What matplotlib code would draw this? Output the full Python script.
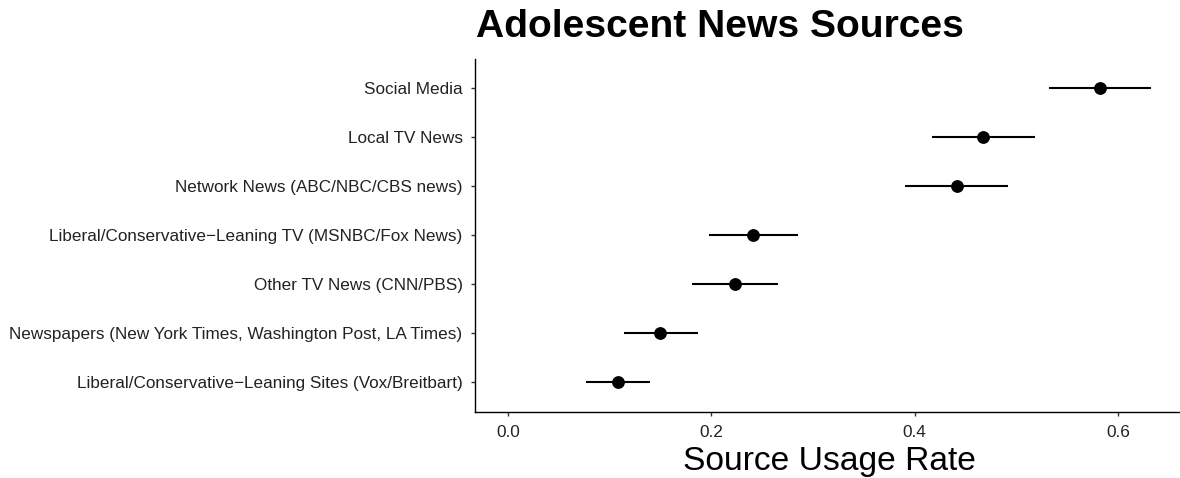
import matplotlib
matplotlib.use("Agg")
import matplotlib.pyplot as plt

categories = [
    "Social Media",
    "Local TV News",
    "Network News (ABC/NBC/CBS news)",
    "Liberal/Conservative\u2212Leaning TV (MSNBC/Fox News)",
    "Other TV News (CNN/PBS)",
    "Newspapers (New York Times, Washington Post, LA Times)",
    "Liberal/Conservative\u2212Leaning Sites (Vox/Breitbart)",
]
rate = [0.582, 0.4675, 0.4415, 0.241, 0.223, 0.150, 0.1085]
ci_low = [0.532, 0.417, 0.391, 0.198, 0.181, 0.114, 0.077]
ci_high = [0.632, 0.518, 0.492, 0.285, 0.2655, 0.1865, 0.140]
xticks = [0.0, 0.2, 0.4, 0.6]
xticklabels = ["0.0", "0.2", "0.4", "0.6"]

plt.rcParams['font.family'] = ['Liberation Sans', 'DejaVu Sans']

W, H = 1180, 478
fig = plt.figure(figsize=(W / 100, H / 100), dpi=100)
ax = fig.add_axes([474.7 / W, 1 - 411.7 / H, 1 - 474.7 / W, (411.7 - 58.6) / H])

n = len(categories)
ypos = [n - 1 - i for i in range(n)]
for y, lo, hi in zip(ypos, ci_low, ci_high):
    ax.plot([lo, hi], [y, y], color='black', lw=1.5, solid_capstyle='butt')
ax.plot(rate, ypos, 'o', color='black', markersize=8.2, zorder=3)

ax.set_xlim(-0.0327, 0.661)
ax.set_ylim(-0.6, n - 1 + 0.6)
ax.set_yticks(ypos)
ax.set_yticklabels(categories, fontsize=12.3, color='#222222')
ax.set_xticks(xticks)
ax.set_xticklabels(xticklabels, fontsize=12.4, color='#222222')
ax.tick_params(axis='y', length=3.0, width=1.0, color='#333333', pad=5.7)
ax.tick_params(axis='x', length=3.0, width=1.0, color='#333333', pad=6.5)

for s in ['top', 'right']:
    ax.spines[s].set_visible(False)
for s in ['left', 'bottom']:
    ax.spines[s].set_linewidth(1.0)
    ax.spines[s].set_color('black')

fig.text(829.2 / W, 1 - 470 / H, "Source Usage Rate", fontsize=24.2,
         ha='center', va='baseline')
fig.text(476.5 / W, 1 - 36.7 / H, "Adolescent News Sources", fontsize=28.1,
         fontweight='bold', ha='left', va='baseline')

fig.savefig("out.png", dpi=100)
